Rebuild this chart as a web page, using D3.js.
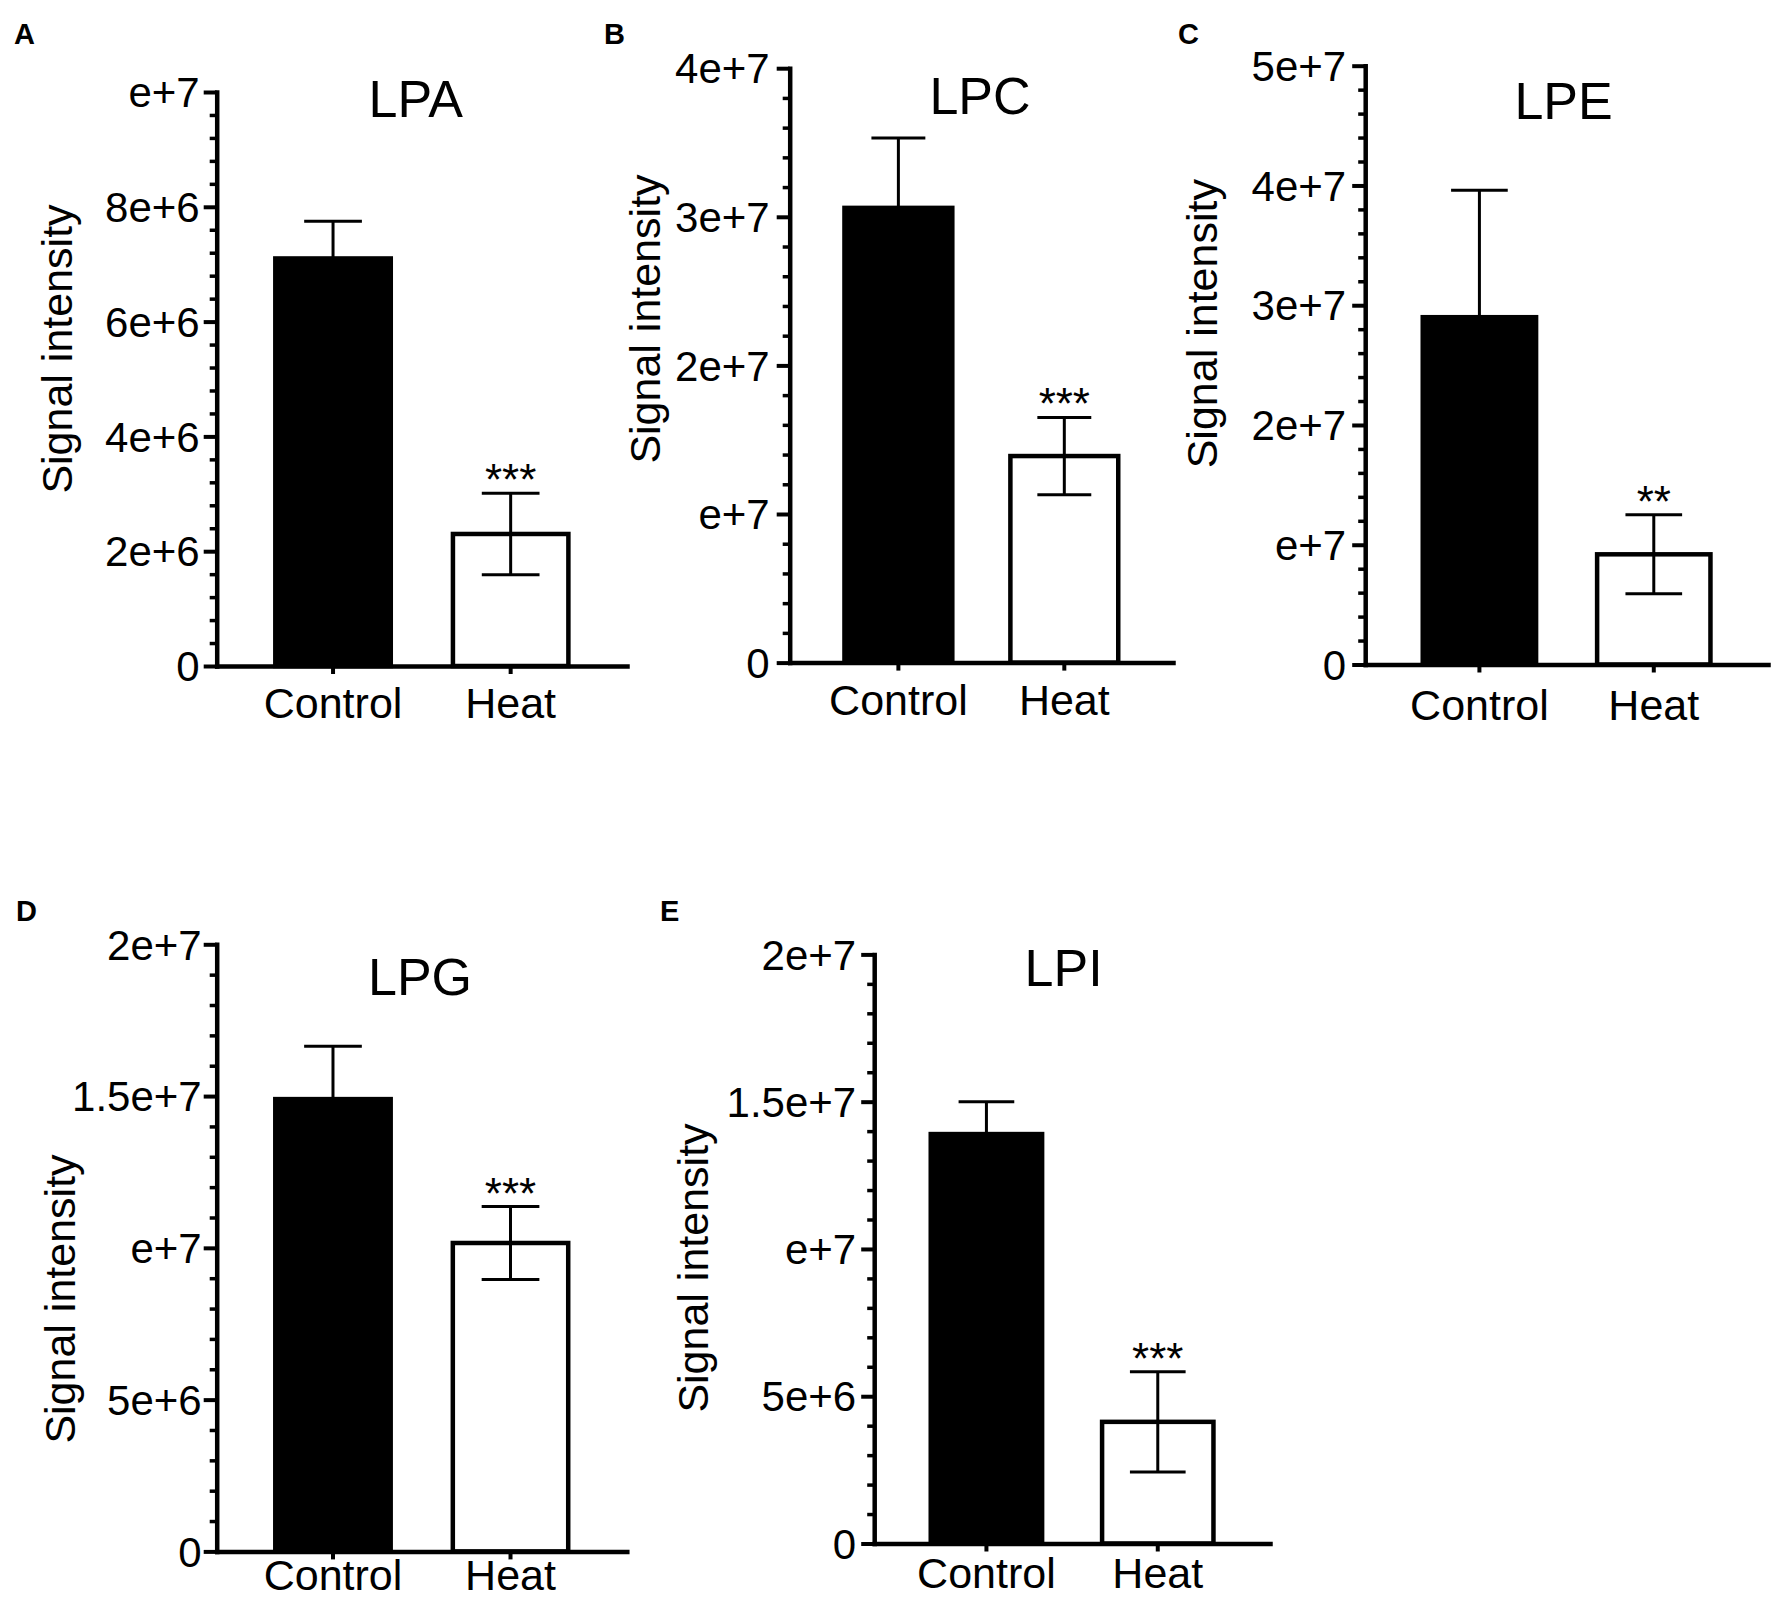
<!DOCTYPE html>
<html>
<head>
<meta charset="utf-8">
<script src="https://cdn.jsdelivr.net/npm/d3@7"></script>
<style>
  body { margin: 0; background: #fff; }
  svg { display: block; }
  text { font-family: "Liberation Sans", Arial, Helvetica, sans-serif; fill: #000; }
</style>
</head>
<body>
<svg id="fig" width="1775" height="1600"></svg>
<script>
// values
var lipids = ["LPA", "LPC", "LPE", "LPG", "LPI"];
var letters = ["A", "B", "C", "D", "E"];
var groups = ["Control", "Heat"];
var controlMean = [7.1e6, 3.06e7, 2.90e7, 1.49e7, 1.39e7];
var controlSem  = [0.65e6, 4.7e6, 1.06e7, 1.74e6, 1.1e6];
var heatMean    = [2.3e6, 1.39e7, 9.2e6, 1.016e7, 4.13e6];
var heatSem     = [0.71e6, 2.6e6, 3.3e6, 1.2e6, 1.7e6];
var stars       = ["***", "***", "**", "***", "***"];
var yMax        = [1e7, 4e7, 5e7, 2e7, 2e7];
var majorStep   = [2e6, 1e7, 1e7, 5e6, 5e6];
var minorStep   = [4e5, 2e6, 2e6, 1e6, 1e6];

// where each panel sits on the page
var layout = [
  {x0: 216.7,  x1: 627,  yZero: 666,    yTop: 92,    tickPad: 17, titleX: 415.7,  titleY: 117,   ylabX: 72,     ylabY: 349,  catDy: 52,   letterX: 14,   letterY: 44},
  {x0: 789.7,  x1: 1173, yZero: 662.6,  yTop: 68.2,  tickPad: 20, titleX: 980,    titleY: 114,   ylabX: 660,    ylabY: 319,  catDy: 52.4, letterX: 604,  letterY: 44},
  {x0: 1365.2, x1: 1768, yZero: 664.5,  yTop: 65.7,  tickPad: 19, titleX: 1563.6, titleY: 118.5, ylabX: 1217,   ylabY: 323.7, catDy: 55.5, letterX: 1178, letterY: 44},
  {x0: 216.7,  x1: 626.8, yZero: 1551.4, yTop: 944.3, tickPad: 15, titleX: 420,   titleY: 995,   ylabX: 75,     ylabY: 1299, catDy: 39,   letterX: 16,   letterY: 921},
  {x0: 874.2,  x1: 1270, yZero: 1543.5, yTop: 954.4, tickPad: 18, titleX: 1063.6, titleY: 986,   ylabX: 708,    ylabY: 1268, catDy: 44,   letterX: 660,  letterY: 921}
];

var svg = d3.select("#fig");

// Prism style labels: 0, 2e+6, e+7, 1.5e+7
function sci(v) {
  if (v === 0) return "0";
  var e = Math.floor(Math.log10(v) + 1e-9);
  var m = +(v / Math.pow(10, e)).toFixed(2);
  return (m === 1 ? "" : m) + "e+" + e;
}

lipids.forEach(function(name, i) {
  var L = layout[i];
  var g = svg.append("g");

  var x = d3.scaleBand().domain(groups).range([L.x0, L.x1])
      .paddingInner(0.35).paddingOuter(0.33);
  var y = d3.scaleLinear().domain([0, yMax[i]]).range([L.yZero, L.yTop]);

  var rows = [
    {group: "Control", mean: controlMean[i], sem: controlSem[i], fill: "#000"},
    {group: "Heat", mean: heatMean[i], sem: heatSem[i], fill: "#fff"}
  ];

  // bars
  g.selectAll("rect.bar").data(rows).enter().append("rect")
      .attr("class", "bar")
      .attr("x", function(d) { return x(d.group); })
      .attr("width", x.bandwidth())
      .attr("y", function(d) { return y(d.mean); })
      .attr("height", function(d) { return y(0) - y(d.mean); })
      .attr("fill", function(d) { return d.fill; })
      .attr("stroke", "#000")
      .attr("stroke-width", 4.5);

  // error bars (mean +/- SEM)
  var cap = x.bandwidth() / 4;
  var eb = g.selectAll("g.err").data(rows).enter().append("g")
      .attr("class", "err")
      .attr("transform", function(d) { return "translate(" + (x(d.group) + x.bandwidth() / 2) + ",0)"; })
      .attr("stroke", "#000").attr("stroke-width", 3);
  eb.append("line")
      .attr("y1", function(d) { return y(d.mean - d.sem); })
      .attr("y2", function(d) { return y(d.mean + d.sem); });
  eb.append("line")
      .attr("x1", -cap).attr("x2", cap)
      .attr("y1", function(d) { return y(d.mean + d.sem); })
      .attr("y2", function(d) { return y(d.mean + d.sem); });
  eb.append("line")
      .attr("x1", -cap).attr("x2", cap)
      .attr("y1", function(d) { return y(d.mean - d.sem); })
      .attr("y2", function(d) { return y(d.mean - d.sem); });

  // significance
  g.append("text")
      .attr("x", x("Heat") + x.bandwidth() / 2)
      .attr("y", y(heatMean[i] + heatSem[i]) + 2)
      .attr("text-anchor", "middle")
      .attr("font-size", 44)
      .text(stars[i]);

  // y axis: major + minor ticks
  var majors = d3.range(0, yMax[i] + majorStep[i] / 2, majorStep[i]);
  var minors = d3.range(0, yMax[i] + minorStep[i] / 2, minorStep[i]).filter(function(v) {
    return Math.abs(v / majorStep[i] - Math.round(v / majorStep[i])) > 1e-6;
  });

  var yMinor = g.append("g")
      .attr("transform", "translate(" + L.x0 + ",0)")
      .call(d3.axisLeft(y).tickValues(minors).tickSize(7).tickFormat(""));
  yMinor.select(".domain").remove();
  yMinor.selectAll(".tick line").attr("stroke-width", 3.5);

  var yAx = g.append("g")
      .attr("transform", "translate(" + L.x0 + ",0)")
      .call(d3.axisLeft(y).tickValues(majors).tickSize(13).tickSizeOuter(0)
        .tickPadding(L.tickPad - 13).tickFormat(sci));
  yAx.select(".domain").attr("stroke-width", 4.5).attr("stroke-linecap", "square");
  yAx.selectAll(".tick line").attr("stroke-width", 4);
  yAx.selectAll(".tick text")
      .attr("font-size", 42)
      .attr("font-family", null)
      .attr("dy", "0.35em");

  // x axis
  var xAx = g.append("g")
      .attr("transform", "translate(0," + L.yZero + ")")
      .call(d3.axisBottom(x).tickSize(8).tickSizeOuter(0));
  xAx.select(".domain").attr("stroke-width", 4.5).attr("stroke-linecap", "square");
  xAx.selectAll(".tick line").attr("stroke-width", 4);
  xAx.selectAll(".tick text")
      .attr("font-size", 43)
      .attr("font-family", null)
      .attr("y", L.catDy)
      .attr("dy", null);

  // titles and labels
  g.append("text")
      .attr("x", L.titleX).attr("y", L.titleY)
      .attr("text-anchor", "middle")
      .attr("font-size", 52)
      .text(name);

  g.append("text")
      .attr("transform", "translate(" + L.ylabX + "," + L.ylabY + ") rotate(-90)")
      .attr("text-anchor", "middle")
      .attr("font-size", 43)
      .text("Signal intensity");

  g.append("text")
      .attr("x", L.letterX).attr("y", L.letterY)
      .attr("font-size", 29)
      .attr("font-weight", "bold")
      .text(letters[i]);
});
</script>
</body>
</html>
